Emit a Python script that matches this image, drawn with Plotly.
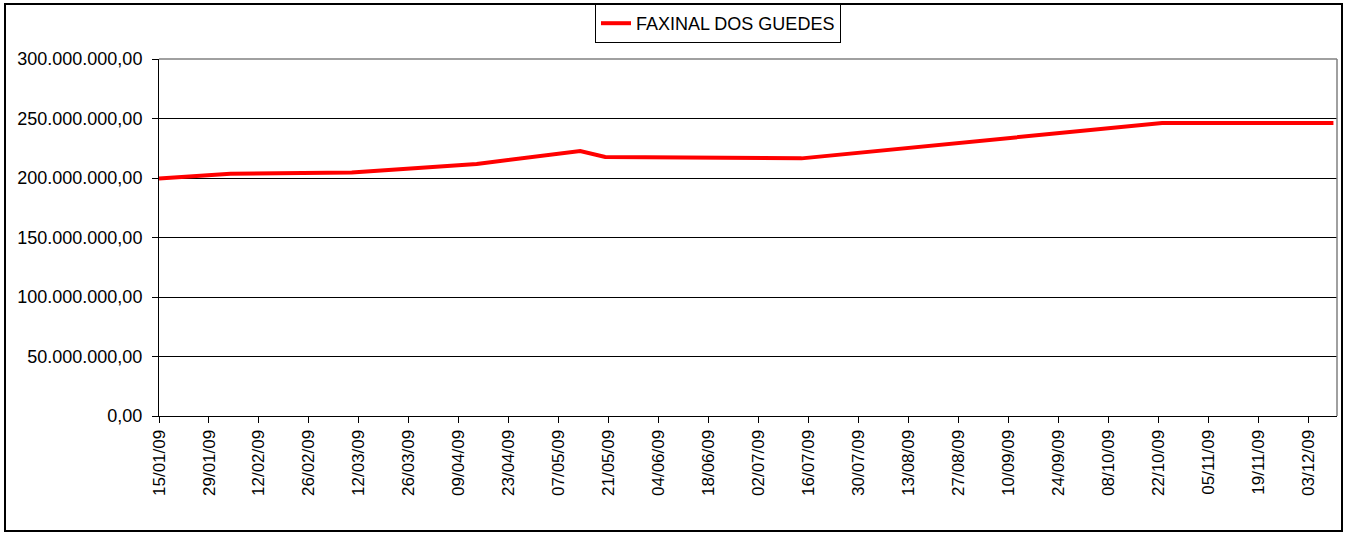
import plotly.graph_objects as go
import pandas as pd

# ---- data ----
dates = ["2009-01-15", "2009-02-04", "2009-03-10", "2009-04-14", "2009-05-13",
         "2009-05-20", "2009-07-14", "2009-10-23", "2009-12-10"]
values = [199.5e6, 203.5e6, 204.7e6, 211.8e6, 222.7e6,
          217.7e6, 216.5e6, 246.2e6, 246.2e6]
series_name = "FAXINAL DOS GUEDES"
tick_dates = pd.date_range("2009-01-15", "2009-12-03", freq="14D")
tick_labels = [d.strftime("%d/%m/%y") for d in tick_dates]
y_ticks = [0, 50e6, 100e6, 150e6, 200e6, 250e6, 300e6]

W, H = 1347, 534
L, R, T, B = 159, 10, 59, 118
pw, ph = W - L - R, H - T - B

def px(x):
    return (x - L) / pw

def py(y):
    return (H - B - y) / ph

FONT = "Liberation Sans, Arial, sans-serif"

fig = go.Figure()
fig.add_trace(go.Scatter(x=dates, y=values, mode="lines", name=series_name,
                         line=dict(color="#FF0000", width=4)))

fig.update_layout(
    width=W, height=H,
    margin=dict(l=L, r=R, t=T, b=B, autoexpand=False),
    paper_bgcolor="white", plot_bgcolor="white",
    separators=",.",
    font=dict(family=FONT, color="black", size=16),
    showlegend=True,
    legend=dict(orientation="h", x=px(718), xanchor="center", y=py(4), yanchor="top",
                bordercolor="black", borderwidth=1, bgcolor="white",
                font=dict(size=18, family=FONT)),
    xaxis=dict(range=["2009-01-15", "2009-12-11"], tickvals=list(tick_dates),
               ticktext=tick_labels, tickangle=-90, ticks="outside", ticklen=6,
               tickcolor="black", showgrid=False, showline=True, linecolor="black",
               linewidth=1, tickfont=dict(size=17, family=FONT), zeroline=False,
               automargin=False),
    yaxis=dict(range=[0, 300e6], tickvals=y_ticks, tickformat=",.2f",
               ticks="outside", ticklen=6, tickcolor="black", showgrid=True,
               gridcolor="black", gridwidth=1, showline=True, linecolor="black",
               linewidth=1, tickfont=dict(size=18, family=FONT), zeroline=False,
               ticklabelstandoff=6, automargin=False),
)

# plot area border (gray top/right)
fig.add_shape(type="line", xref="paper", yref="paper", x0=0, x1=1, y0=1, y1=1,
              line=dict(color="#808080", width=1.5), layer="above")
fig.add_shape(type="line", xref="paper", yref="paper", x0=1, x1=1, y0=0, y1=1,
              line=dict(color="#808080", width=1.5), layer="above")
# outer chart border
fig.add_shape(type="rect", xref="paper", yref="paper",
              x0=px(5), x1=px(1342), y0=py(531), y1=py(4),
              line=dict(color="black", width=2), fillcolor="rgba(0,0,0,0)", layer="below")

fig.write_html("out.html", config={"displayModeBar": False},
               post_script="document.body.style.margin='0';document.body.style.overflow='hidden';")
